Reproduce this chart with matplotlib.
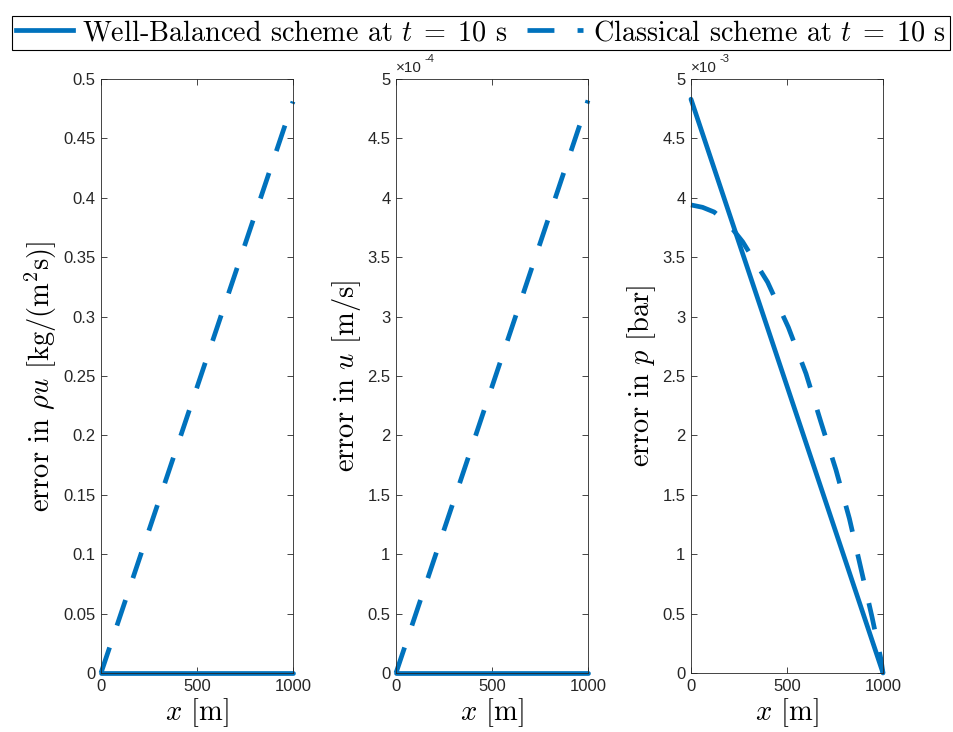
import matplotlib
matplotlib.use("Agg")
import matplotlib.pyplot as plt
from matplotlib.lines import Line2D
from matplotlib.ticker import FuncFormatter, MultipleLocator

plt.rcParams["font.family"] = "Liberation Sans"
plt.rcParams["mathtext.fontset"] = "cm"

BLUE = "#0072BD"
LW = 3.4
DASH = (0, (5.7, 4.9))

# panel 1: error in rho*u
x_lin = [0, 1000]
wb_rhou = [0.0, 0.0]
cl_rhou = [0.0, 0.481]

# panel 2: error in u
wb_u = [0.0, 0.0]
cl_u = [0.0, 4.82e-4]

# panel 3: error in p
wb_p = [4.83e-3, 0.0]
x_cl_p = [0, 60, 121, 200, 269, 399, 507, 599, 677, 755, 825, 885, 943, 990, 1000]
cl_p = [3.94e-3, 3.92e-3, 3.88e-3, 3.77e-3, 3.63e-3, 3.29e-3, 2.91e-3, 2.52e-3,
        2.11e-3, 1.71e-3, 1.30e-3, 0.88e-3, 0.47e-3, 0.11e-3, 0.0]

panels = [
    (x_lin, wb_rhou, x_lin, cl_rhou, 0.5, 0.05, 1.0, None,
     r"error in $\rho u$ [kg/(m$^2$s)]"),
    (x_lin, wb_u, x_lin, cl_u, 5e-4, 0.5e-4, 1e-4, "-4",
     r"error in $u$ [m/s]"),
    (x_lin, wb_p, x_cl_p, cl_p, 5e-3, 0.5e-3, 1e-3, "-3",
     r"error in $p$ [bar]"),
]

fig = plt.figure(figsize=(9.54, 7.32), dpi=100)
lefts = [101, 396, 691]
for left, (xw, yw, xc, yc, ymax, ystep, scale, expo, ylab) in zip(lefts, panels):
    ax = fig.add_axes([left / 954, 59 / 732, 192 / 954, 594 / 732])
    ax.plot(xw, yw, color=BLUE, lw=LW, clip_on=False, solid_capstyle="round")
    ax.plot(xc, yc, color=BLUE, lw=LW, ls=DASH, clip_on=False)
    ax.set_xlim(0, 1000)
    ax.set_ylim(0, ymax)
    ax.xaxis.set_major_locator(MultipleLocator(500))
    ax.yaxis.set_major_locator(MultipleLocator(ystep))
    ax.yaxis.set_major_formatter(FuncFormatter(lambda v, p, s=scale: f"{round(v / s, 6):g}"))
    ax.tick_params(direction="in", length=4, width=0.6, top=True, right=True,
                   labelsize=12, colors="#262626", pad=4)
    for sp in ax.spines.values():
        sp.set_color("#262626")
        sp.set_linewidth(0.6)
    ax.set_xlabel(r"$x$ [m]", fontfamily="cmr10", fontsize=20.5, labelpad=2)
    ax.set_ylabel(ylab, fontfamily="cmr10", fontsize=20.5, labelpad=3)
    if expo:
        ax.text(0.0, 1.006, "×10", transform=ax.transAxes, fontsize=11,
                color="#262626", ha="left", va="bottom")
        ax.text(0.15, 1.025, expo, transform=ax.transAxes, fontsize=8,
                color="#262626", ha="left", va="bottom")

handles = [
    Line2D([], [], color=BLUE, lw=LW, label=r"Well-Balanced scheme at $t\;=\;10$ s"),
    Line2D([], [], color=BLUE, lw=LW, ls=DASH, label=r"Classical scheme at $t\;=\;10$ s"),
]
leg = fig.legend(handles=handles, loc="center",
                 bbox_to_anchor=(12 / 954, 1 - 53 / 732, 938 / 954, 40 / 732),
                 mode="expand", ncol=2, fancybox=False, edgecolor="black",
                 framealpha=1, prop={"family": "cmr10", "size": 20.3},
                 handlelength=2.0, handletextpad=0.34, columnspacing=0.3,
                 borderpad=0.15, borderaxespad=0)
leg.get_frame().set_linewidth(0.8)

fig.savefig("out.png", dpi=100)
